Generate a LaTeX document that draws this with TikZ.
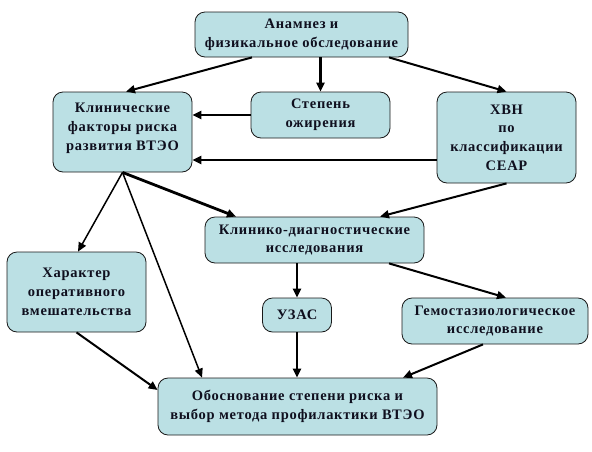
\documentclass[tikz,border=0pt]{standalone}
\usepackage{fontspec}
\setmainfont{Liberation Serif}[LetterSpace=5]
\usetikzlibrary{arrows.meta}
\definecolor{boxc}{RGB}{187,224,228}
\definecolor{edgec}{RGB}{25,25,25}
\definecolor{textc}{RGB}{15,15,30}
\tikzset{
  box/.style={draw=edgec, line width=0.8pt, fill=boxc, rounded corners=10pt, align=center,
    inner sep=0pt, text=textc, font=\fontsize{14.5}{18.7}\selectfont\bfseries},
  thickarr/.style={line width=2.8pt, -{Triangle[length=9pt,width=8pt]}},
  medarr/.style={line width=2pt, -{Triangle[length=9pt,width=8pt]}},
  thinarr/.style={line width=1.5pt, -{Triangle[length=9pt,width=8pt]}},
}
\begin{document}
\begin{tikzpicture}[x=1pt,y=-1pt]
\useasboundingbox (0,0) rectangle (592,451);
\node[box, minimum width=213pt, minimum height=45pt] (anam) at (301.5,34.5) {Анамнез и\\физикальное обследование};
\node[box, minimum width=139pt, minimum height=80pt] (klin) at (122.5,132) {Клинические\\факторы риска\\развития ВТЭО\\[-8.5pt]};
\node[box, minimum width=139pt, minimum height=46pt] (step) at (320.5,115) {Степень\\ожирения};
\node[box, minimum width=139pt, minimum height=91pt] (hvn) at (506.5,137.5) {ХВН\\по\\классификации\\CEAP};
\node[box, minimum width=219pt, minimum height=46pt] (kd) at (314.5,240) {Клинико-диагностические\\исследования};
\node[box, minimum width=139pt, minimum height=80pt] (har) at (76.5,292) {Характер\\оперативного\\вмешательства};
\node[box, minimum width=69pt, minimum height=34pt] (uzas) at (297,315) {УЗАС};
\node[box, minimum width=186pt, minimum height=46pt] (gem) at (495,321) {Гемостазиологическое\\исследование};
\node[box, minimum width=279pt, minimum height=57pt] (obos) at (297.5,406.5) {Обоснование степени риска и\\выбор метода профилактики ВТЭО};

\draw[medarr] ([xshift=-49.5pt]anam.south) -- ([xshift=3.5pt]klin.north);
\draw[thickarr] (anam.south -| step.north) -- (step.north);
\draw[medarr] ([xshift=87.5pt]anam.south) -- (hvn.north);
\draw[thickarr] (step.west) -- (step.west -| klin.east);
\draw[thickarr] ([yshift=-22.5pt]hvn.west) -- ([yshift=-22.5pt]hvn.west -| klin.east);
\draw[thinarr] (klin.south) -- ([xshift=1.5pt]har.north);
\draw[thinarr] (klin.south) -- ([xshift=-95.5pt]obos.north);
\draw[thickarr] (klin.south) -- ([xshift=-78.5pt]kd.north);
\draw[medarr] (hvn.south) -- ([xshift=65.5pt]kd.north);
\draw[thickarr] (kd.south -| uzas.north) -- (uzas.north);
\draw[medarr] ([xshift=74.5pt]kd.south) -- ([xshift=11pt]gem.north);
\draw[thickarr] (uzas.south) -- (obos.north -| uzas.south);
\draw[medarr] ([xshift=-12pt]gem.south) -- ([xshift=105.5pt]obos.north);
\draw[medarr] (har.south) -- ([yshift=16.5pt]obos.west);
\end{tikzpicture}
\end{document}
